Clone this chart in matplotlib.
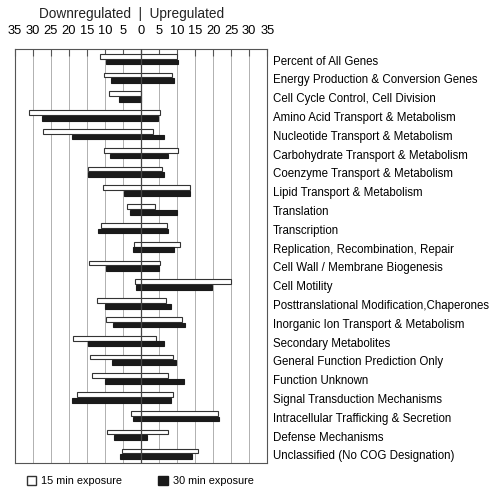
import numpy as np
import matplotlib
matplotlib.use('Agg')
from matplotlib import pyplot as plt
from matplotlib.patches import Patch

plt.rcParams['font.family'] = ['Liberation Sans', 'DejaVu Sans']

# COG functional categories, top to bottom
categories = ['Percent of All Genes',
              'Energy Production & Conversion Genes',
              'Cell Cycle Control, Cell Division',
              'Amino Acid Transport & Metabolism',
              'Nucleotide Transport & Metabolism',
              'Carbohydrate Transport & Metabolism',
              'Coenzyme Transport & Metabolism',
              'Lipid Transport & Metabolism',
              'Translation',
              'Transcription',
              'Replication, Recombination, Repair',
              'Cell Wall / Membrane Biogenesis',
              'Cell Motility',
              'Posttranslational Modification,Chaperones',
              'Inorganic Ion Transport & Metabolism',
              'Secondary Metabolites',
              'General Function Prediction Only',
              'Function Unknown',
              'Signal Transduction Mechanisms',
              'Intracellular Trafficking & Secretion',
              'Defense Mechanisms',
              'Unclassified (No COG Designation)']

# percent of genes down / up regulated
down_15 = [11.3, 10.3, 8.9, 31.0, 27.2, 10.3, 14.7, 10.5, 3.9, 11.0, 1.9,
           14.5, 1.6, 12.2, 9.7, 18.9, 14.1, 13.6, 17.8, 2.9, 9.5, 5.2]
up_15 = [10.1, 8.5, 0.0, 5.2, 3.4, 10.4, 5.8, 13.6, 4.0, 7.2, 10.7,
         5.2, 25.0, 6.8, 11.3, 4.2, 8.9, 7.4, 8.9, 21.4, 7.4, 15.9]
down_30 = [9.7, 8.3, 6.2, 27.4, 19.1, 8.6, 14.7, 4.6, 3.1, 11.9, 2.3,
           9.7, 1.4, 10.0, 7.8, 14.6, 8.0, 10.1, 19.1, 2.1, 7.6, 5.7]
up_30 = [10.4, 9.1, 0.0, 4.8, 6.4, 7.6, 6.4, 13.5, 10.0, 7.6, 9.1,
         5.0, 19.8, 8.4, 12.1, 6.3, 9.7, 11.8, 8.4, 21.6, 1.8, 14.2]

down_15 = np.array(down_15)
up_15 = np.array(up_15)
down_30 = np.array(down_30)
up_30 = np.array(up_30)

fig = plt.figure(figsize=(4.93, 4.92), dpi=100)
ax = fig.add_axes([0.030, 0.059, 0.512, 0.841])

y = np.arange(len(categories))
h = 0.25
ax.barh(y - 0.16, up_15 + down_15, left=-down_15, height=h,
        color='white', edgecolor='#333333', linewidth=0.8, zorder=3)
ax.barh(y + 0.14, up_30 + down_30, left=-down_30, height=h,
        color='#1a1a1a', edgecolor='#1a1a1a', linewidth=0.8, zorder=3)

ax.set_xlim(-35, 35)
ax.set_ylim(21.48, -0.535)
ax.axvline(0, color='#444444', lw=0.9, zorder=4)
for x in range(-35, 36, 5):
    ax.axvline(x, color='#b0b0b0', lw=0.7, zorder=1)

ax.set_xticks(range(-35, 36, 5))
ax.set_xticklabels([str(abs(v)) for v in range(-35, 36, 5)], fontsize=9.3)
ax.xaxis.tick_top()
ax.tick_params(axis='x', direction='in', length=5, color='#555555', pad=9)

ax.set_yticks(y + 0.05)
ax.set_yticklabels(categories, fontsize=8.3)
ax.yaxis.tick_right()
ax.tick_params(axis='y', length=0, pad=4)

for s in ax.spines.values():
    s.set_color('#555555')
    s.set_linewidth(0.8)

fig.text(0.266, 0.972, 'Downregulated  |  Upregulated', ha='center', va='center',
         fontsize=9.8, color='#222222')

handles = [Patch(facecolor='white', edgecolor='#333333', label='15 min exposure'),
           Patch(facecolor='#1a1a1a', edgecolor='#1a1a1a', label='30 min exposure')]
fig.legend(handles=handles, loc='center', bbox_to_anchor=(0.284, 0.022), ncol=2,
           frameon=False, fontsize=7.8, handlelength=0.9, handleheight=0.9,
           columnspacing=3.3, handletextpad=0.45)

fig.savefig('out.png', dpi=100)
